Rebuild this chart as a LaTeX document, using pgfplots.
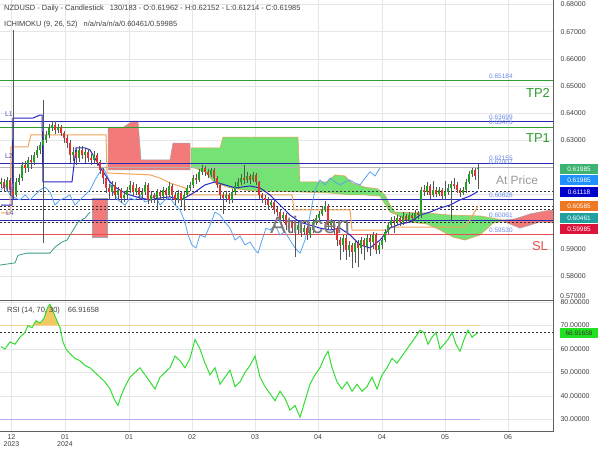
\documentclass[border=0pt]{standalone}
\usepackage{fontspec}
\setmainfont{Liberation Sans}
\usepackage{pgfplots}
\pgfplotsset{compat=1.18}
\usepackage{pgfplotstable}

\definecolor{wick}{HTML}{555555}
\definecolor{cup}{HTML}{22A022}
\definecolor{cdn}{HTML}{E03030}
\definecolor{tenkan}{HTML}{2828C8}
\definecolor{kijun}{HTML}{F5A55A}
\definecolor{chikou}{HTML}{5AA5F0}
\definecolor{senkou}{HTML}{3A9A8A}
\definecolor{cloudgreen}{HTML}{74E274}
\definecolor{cloudred}{HTML}{F27A7A}
\definecolor{levelblue}{HTML}{2A2AB4}
\definecolor{levelgreen}{HTML}{2E9E2E}
\definecolor{levelred}{HTML}{E85050}
\definecolor{atgray}{HTML}{B4B4B4}
\definecolor{gridgray}{HTML}{E6E6E6}
\definecolor{axisgray}{HTML}{606060}
\definecolor{labelgray}{HTML}{404040}
\definecolor{pricelabel}{HTML}{6A8AE8}
\definecolor{rsiline}{HTML}{33DD33}
\definecolor{rsiseventy}{HTML}{F5D49A}
\definecolor{rsithirty}{HTML}{B8A8EE}
\definecolor{rsifill}{HTML}{F2C860}
\definecolor{boxgreen}{HTML}{3CB371}
\definecolor{boxblue}{HTML}{1E90FF}
\definecolor{boxnavy}{HTML}{0000CD}
\definecolor{boxorange}{HTML}{EE7722}
\definecolor{boxteal}{HTML}{22A0A0}
\definecolor{boxred}{HTML}{DC143C}
\definecolor{rsibox}{HTML}{22E022}
\definecolor{watermark}{HTML}{7A7A7A}

\pgfplotstableread{
x o h l c
1 0.6140 0.6162 0.6125 0.6147
4 0.6147 0.6159 0.6110 0.6125
7 0.6125 0.6166 0.6112 0.6154
10 0.6154 0.6160 0.6095 0.6117
13 0.6117 0.6706 0.6085 0.6099
16 0.6099 0.6160 0.6090 0.6147
19 0.6147 0.6175 0.6135 0.6161
22 0.6161 0.6220 0.6150 0.6209
25 0.6209 0.6225 0.6180 0.6198
28 0.6198 0.6240 0.6185 0.6228
31 0.6228 0.6245 0.6195 0.6220
34 0.6220 0.6258 0.6210 0.6246
37 0.6246 0.6280 0.6235 0.6265
40 0.6265 0.6295 0.6250 0.6283
43 0.6283 0.6449 0.5922 0.6301
46 0.6301 0.6335 0.6290 0.6320
49 0.6320 0.6360 0.6310 0.6346
52 0.6346 0.6372 0.6335 0.6357
55 0.6357 0.6370 0.6325 0.6338
58 0.6338 0.6362 0.6328 0.6349
61 0.6349 0.6358 0.6315 0.6327
64 0.6327 0.6335 0.6290 0.6309
67 0.6309 0.6318 0.6270 0.6290
70 0.6290 0.6300 0.6215 0.6246
73 0.6246 0.6275 0.6225 0.6257
76 0.6257 0.6268 0.6210 0.6235
79 0.6235 0.6280 0.6220 0.6265
82 0.6265 0.6278 0.6230 0.6246
85 0.6246 0.6272 0.6215 0.6257
88 0.6257 0.6268 0.6220 0.6235
91 0.6235 0.6250 0.6210 0.6228
94 0.6228 0.6262 0.6215 0.6246
97 0.6246 0.6255 0.6205 0.6220
100 0.6220 0.6228 0.6175 0.6191
103 0.6191 0.6200 0.6140 0.6161
106 0.6161 0.6170 0.6105 0.6125
109 0.6125 0.6140 0.6082 0.6110
112 0.6110 0.6150 0.6095 0.6136
115 0.6136 0.6145 0.6080 0.6099
118 0.6099 0.6130 0.6085 0.6117
121 0.6117 0.6125 0.6070 0.6088
124 0.6088 0.6112 0.6075 0.6099
127 0.6099 0.6130 0.6085 0.6117
130 0.6117 0.6150 0.6105 0.6136
133 0.6136 0.6145 0.6095 0.6110
136 0.6110 0.6138 0.6098 0.6125
139 0.6125 0.6130 0.6080 0.6099
142 0.6099 0.6125 0.6085 0.6110
145 0.6110 0.6148 0.6100 0.6136
148 0.6136 0.6142 0.6065 0.6081
151 0.6081 0.6112 0.6068 0.6099
154 0.6099 0.6108 0.6070 0.6088
157 0.6088 0.6122 0.6048 0.6110
160 0.6110 0.6118 0.6080 0.6095
163 0.6095 0.6130 0.6082 0.6117
166 0.6117 0.6125 0.6085 0.6099
169 0.6099 0.6145 0.6090 0.6132
172 0.6132 0.6140 0.6085 0.6099
175 0.6099 0.6110 0.6062 0.6081
178 0.6081 0.6118 0.6070 0.6106
181 0.6106 0.6115 0.6060 0.6081
184 0.6081 0.6110 0.6040 0.6099
187 0.6099 0.6135 0.6090 0.6125
190 0.6125 0.6148 0.6115 0.6136
193 0.6136 0.6172 0.6125 0.6161
196 0.6161 0.6175 0.6140 0.6154
199 0.6154 0.6195 0.6145 0.6184
202 0.6184 0.6210 0.6172 0.6198
205 0.6198 0.6205 0.6170 0.6184
208 0.6184 0.6195 0.6160 0.6173
211 0.6173 0.6200 0.6165 0.6191
214 0.6191 0.6198 0.6150 0.6161
217 0.6161 0.6170 0.6125 0.6136
220 0.6136 0.6142 0.6085 0.6099
223 0.6099 0.6110 0.6030 0.6088
226 0.6088 0.6112 0.6075 0.6099
229 0.6099 0.6105 0.6065 0.6081
232 0.6081 0.6122 0.6070 0.6110
235 0.6110 0.6145 0.6098 0.6132
238 0.6132 0.6160 0.6120 0.6147
241 0.6147 0.6175 0.6135 0.6161
244 0.6161 0.6210 0.6140 0.6154
247 0.6154 0.6182 0.6142 0.6169
250 0.6169 0.6178 0.6140 0.6154
253 0.6154 0.6185 0.6145 0.6173
256 0.6173 0.6180 0.6135 0.6147
259 0.6147 0.6152 0.6085 0.6099
262 0.6099 0.6108 0.6070 0.6088
265 0.6088 0.6098 0.6062 0.6081
268 0.6081 0.6090 0.6045 0.6062
271 0.6062 0.6085 0.6050 0.6073
274 0.6073 0.6080 0.6030 0.6044
277 0.6044 0.6055 0.6020 0.6036
280 0.6036 0.6048 0.5995 0.6014
283 0.6014 0.6038 0.6000 0.6025
286 0.6025 0.6032 0.5970 0.5988
289 0.5988 0.6012 0.5975 0.5999
292 0.5999 0.6008 0.5960 0.5977
295 0.5977 0.5990 0.5871 0.5970
298 0.5970 0.6000 0.5955 0.5988
301 0.5988 0.5995 0.5945 0.5963
304 0.5963 0.5990 0.5950 0.5977
307 0.5977 0.5985 0.5935 0.5952
310 0.5952 0.5982 0.5940 0.5970
313 0.5970 0.6010 0.5960 0.5999
316 0.5999 0.6025 0.5990 0.6014
319 0.6014 0.6040 0.6005 0.6029
322 0.6029 0.6060 0.6020 0.6044
325 0.6044 0.6075 0.6035 0.6058
328 0.6058 0.6065 0.5975 0.5988
331 0.5988 0.6010 0.5975 0.5999
334 0.5999 0.6008 0.5955 0.5977
337 0.5977 0.5985 0.5910 0.5933
340 0.5933 0.5945 0.5860 0.5915
343 0.5915 0.5952 0.5890 0.5941
346 0.5941 0.5950 0.5860 0.5897
349 0.5897 0.5928 0.5870 0.5915
352 0.5915 0.5922 0.5830 0.5889
355 0.5889 0.5935 0.5850 0.5922
358 0.5922 0.5935 0.5835 0.5904
361 0.5904 0.5945 0.5880 0.5933
364 0.5933 0.5940 0.5860 0.5911
367 0.5911 0.5955 0.5890 0.5941
370 0.5941 0.5952 0.5875 0.5926
373 0.5926 0.5962 0.5900 0.5952
376 0.5952 0.5960 0.5880 0.5897
379 0.5897 0.5925 0.5880 0.5915
382 0.5915 0.5945 0.5900 0.5933
385 0.5933 0.5975 0.5925 0.5963
388 0.5963 0.6000 0.5955 0.5988
391 0.5988 0.6018 0.5978 0.6007
394 0.6007 0.6020 0.5960 0.5999
397 0.5999 0.6025 0.5990 0.6014
400 0.6014 0.6022 0.5985 0.5999
403 0.5999 0.6035 0.5990 0.6022
406 0.6022 0.6030 0.5995 0.6007
409 0.6007 0.6038 0.5998 0.6025
412 0.6025 0.6032 0.6000 0.6014
415 0.6014 0.6045 0.6005 0.6033
418 0.6033 0.6040 0.6010 0.6025
421 0.6025 0.6128 0.6015 0.6117
424 0.6117 0.6135 0.6095 0.6110
427 0.6110 0.6145 0.6100 0.6132
430 0.6132 0.6140 0.6085 0.6099
433 0.6099 0.6150 0.6090 0.6117
436 0.6117 0.6128 0.6092 0.6103
439 0.6103 0.6130 0.6095 0.6117
442 0.6117 0.6125 0.6080 0.6095
445 0.6095 0.6150 0.6085 0.6110
448 0.6110 0.6138 0.6100 0.6125
451 0.6125 0.6152 0.6007 0.6139
454 0.6139 0.6160 0.6122 0.6136
457 0.6136 0.6145 0.6105 0.6117
460 0.6117 0.6125 0.6090 0.6106
463 0.6106 0.6130 0.6100 0.6117
466 0.6117 0.6158 0.6108 0.6147
469 0.6147 0.6188 0.6140 0.6176
472 0.6176 0.6200 0.6165 0.6191
475 0.6191 0.6198 0.6155 0.6169
478 0.61962 0.62152 0.61214 0.61985
}\candles

\pgfplotstableread{
x r
1 61
5 60
10 63
15 62
20 65
25 67
28 70
32 69
36 72
40 71
44 73
48 78
50 79
53 76
57 72
60 69
63 63
66 60
70 58
75 56
80 55
85 53
90 52
95 50
100 48
105 46
110 43
115 38
118 36
121 40
125 44
130 48
135 50
140 52
145 49
150 46
155 43
160 48
165 50
170 52
175 57
180 55
185 52
190 56
195 64
200 60
205 54
210 49
215 52
220 45
225 48
230 51
235 44
240 46
245 50
250 53
255 57
260 48
265 44
270 41
275 38
280 42
285 39
290 34
295 36
300 31
305 38
310 45
315 49
320 52
325 57
328 59
332 52
337 46
342 43
347 46
352 42
357 45
362 42
367 44
372 48
377 43
382 49
387 52
392 56
397 54
402 57
407 60
412 63
417 66
420 68
424 67
428 62
432 65
436 67
440 60
444 62
448 64
452 67
456 62
460 59
464 64
468 68
472 65
475 66
478 66.92
}\rsi

\pgfplotsset{
  chartbase/.style={
    scale only axis, width=553bp, xmin=0, xmax=553,
    axis line style={draw=none}, tick style={draw=none},
    major tick length=0pt,
    grid=major, grid style={draw=gridgray, line width=0.5bp},
    xtick={11.5,65,129,192,255,318,382,445,508},
    ytick pos=right, yticklabel pos=right,
    yticklabel style={font=\fontsize{7}{8}\selectfont, text=labelgray, anchor=west, xshift=4bp,
      /pgf/number format/.cd, fixed, fixed zerofill, precision=5, assume math mode=true},
  },
  wickstyle/.style={forget plot, draw=none, mark=none,
    error bars/.cd, y dir=both, y explicit, error mark=none,
    error bar style={draw=wick, line width=0.7bp}},
}

\begin{document}
\begin{tikzpicture}[x=1bp,y=1bp]
\fill[white] (0,0) rectangle (600,450);

% ===== Price panel =====
\begin{axis}[chartbase, at={(0bp,149bp)}, anchor=south west, height=301bp,
  ymin=0.57088, ymax=0.68165,
  ytick={0.58,0.59,0.60,0.61,0.62,0.63,0.64,0.65,0.66,0.67,0.68},
  yticklabels={0.58000,0.59000,{},{},{},0.63000,0.64000,0.65000,0.66000,0.67000,0.68000},
  xticklabels={}]

% clouds
\addplot[fill=cloudred, draw=gray!70, line width=0.5bp] coordinates {(92,0.6088)(107,0.6088)(107,0.5944)(92,0.5944)} -- cycle;
\addplot[fill=cloudred, draw=gray!70, line width=0.5bp] coordinates {(108,0.6349)(124,0.6349)(128,0.6360)(133,0.6371)(138,0.6371)(141,0.6228)(170,0.6228)(173,0.6290)(190,0.6290)(190,0.6191)(108,0.6191)} -- cycle;
\addplot[fill=cloudgreen, draw=kijun!80!brown, line width=0.5bp] coordinates {(191,0.6272)(220,0.6272)(223,0.6312)(298,0.6312)(300,0.6147)(327,0.6147)(335,0.6173)(345,0.6169)(352,0.6143)(365,0.6128)(378,0.6121)(385,0.6099)(390,0.6062)(395,0.6036)(395,0.6029)(390,0.6036)(380,0.6095)(365,0.6099)(350,0.6099)(330,0.6106)(300,0.6110)(250,0.6114)(230,0.6125)(215,0.6143)(205,0.6184)(191,0.6202)} -- cycle;
\addplot[fill=cloudgreen, draw=kijun!80!brown, line width=0.5bp] coordinates {(395,0.6036)(427,0.6033)(450,0.6025)(480,0.6022)(503,0.6007)(503,0.6003)(493,0.5995)(480,0.5952)(465,0.5933)(453,0.5944)(440,0.5970)(427,0.5992)(410,0.5999)(395,0.6029)} -- cycle;
\addplot[fill=cloudred, draw=gray!70, line width=0.5bp] coordinates {(503,0.6007)(515,0.6011)(530,0.6029)(545,0.6040)(553,0.6044)(553,0.5996)(540,0.6000)(530,0.5988)(520,0.5977)(510,0.5992)(503,0.6003)} -- cycle;

% level lines
\addplot[levelgreen, line width=1bp] coordinates {(0,0.65184)(553,0.65184)};
\addplot[levelblue, line width=1bp] coordinates {(0,0.63699)(553,0.63699)};
\addplot[levelgreen, line width=1bp] coordinates {(0,0.63476)(553,0.63476)};
\addplot[levelblue, line width=1bp] coordinates {(0,0.62155)(553,0.62155)};
\addplot[atgray, line width=1bp] coordinates {(0,0.61985)(553,0.61985)};
\addplot[levelblue, line width=1bp] coordinates {(0,0.60828)(553,0.60828)};
\addplot[levelblue, line width=1bp] coordinates {(0,0.60061)(553,0.60061)};
\addplot[levelred, line width=1bp] coordinates {(0,0.59530)(553,0.59530)};
\addplot[black!80, line width=0.7bp, dash pattern=on 2bp off 2bp] coordinates {(0,0.61118)(553,0.61118)};
\addplot[black!80, line width=0.7bp, dash pattern=on 2bp off 2bp] coordinates {(0,0.60585)(553,0.60585)};
\addplot[black!80, line width=0.7bp, dash pattern=on 2bp off 2bp] coordinates {(0,0.60461)(553,0.60461)};
\addplot[black!80, line width=0.7bp, dash pattern=on 2bp off 2bp] coordinates {(0,0.59985)(553,0.59985)};

% ichimoku lines
\addplot[senkou, line width=0.8bp] coordinates {(0,0.5841)(15,0.5849)(18,0.5877)(27,0.5885)(50,0.5885)(55,0.5907)(62,0.5926)(67,0.5933)(72,0.5963)(78,0.5999)(85,0.6014)(90,0.6036)};
\addplot[chikou, line width=0.8bp] coordinates {(1,0.6117)(5,0.6136)(10,0.6099)(15,0.6088)(20,0.6081)(25,0.6099)(30,0.6081)(35,0.6099)(40,0.6117)(45,0.6128)(50,0.6110)(55,0.6062)(60,0.6081)(65,0.6088)(70,0.6099)(75,0.6062)(80,0.6081)(85,0.6099)(90,0.6117)(95,0.6154)(100,0.6184)(103,0.6198)(107,0.6173)(112,0.6117)(118,0.6081)(125,0.6062)(130,0.6088)(135,0.6081)(140,0.6099)(145,0.6073)(150,0.6081)(155,0.6099)(160,0.6062)(165,0.6081)(170,0.6088)(175,0.6062)(180,0.6044)(185,0.5999)(188,0.5952)(192,0.5915)(196,0.5904)(200,0.5952)(205,0.5944)(210,0.5988)(215,0.6036)(220,0.6025)(225,0.5999)(230,0.5977)(235,0.5933)(240,0.5948)(245,0.5915)(250,0.5926)(255,0.5897)(258,0.5885)(262,0.5933)(266,0.5977)(270,0.5970)(275,0.5988)(280,0.5952)(285,0.5963)(290,0.5933)(295,0.5904)(300,0.5885)(305,0.5933)(310,0.6025)(315,0.6117)(320,0.6154)(325,0.6136)(330,0.6161)(335,0.6147)(340,0.6136)(345,0.6147)(350,0.6154)(355,0.6143)(360,0.6136)(365,0.6161)(370,0.6184)(375,0.6169)(380,0.6198)};
\addplot[kijun, line width=1bp] coordinates {(1,0.6033)(10,0.6033)(11,0.6276)(28,0.6276)(31,0.6320)(106,0.6320)(107,0.6180)(150,0.6173)(160,0.6161)(170,0.6143)(185,0.6125)(190,0.6099)(292,0.6099)(294,0.6044)(350,0.6044)(352,0.5970)(387,0.5970)(390,0.5981)(465,0.5981)(470,0.6007)(474,0.6033)(478,0.6058)};
\addplot[tenkan, line width=1bp] coordinates {(1,0.6062)(12,0.6062)(13,0.6382)(33,0.6382)(40,0.6393)(42,0.6393)(43,0.6147)(72,0.6147)(76,0.6272)(85,0.6272)(90,0.6265)(100,0.6202)(110,0.6147)(115,0.6128)(125,0.6106)(130,0.6099)(140,0.6088)(150,0.6081)(160,0.6088)(170,0.6092)(180,0.6081)(185,0.6088)(195,0.6110)(205,0.6136)(215,0.6147)(225,0.6136)(235,0.6125)(250,0.6132)(260,0.6125)(270,0.6099)(280,0.6062)(290,0.6025)(300,0.5999)(310,0.5988)(320,0.5977)(330,0.5970)(340,0.5977)(350,0.5952)(360,0.5915)(370,0.5904)(380,0.5933)(390,0.5977)(400,0.5992)(410,0.5999)(420,0.6025)(430,0.6036)(440,0.6051)(450,0.6062)(460,0.6081)(470,0.6095)(478,0.6112)};

% candles
\addplot[wickstyle] table[x=x, y expr={(\thisrow{h}+\thisrow{l})/2}, y error expr={(\thisrow{h}-\thisrow{l})/2}] {\candles};
\addplot[forget plot, draw=none, mark=none,
  restrict expr to domain={\thisrow{c}-\thisrow{o}}{0:1},
  error bars/.cd, y dir=both, y explicit, error mark=none,
  error bar style={draw=cup, line width=2bp}]
  table[x=x, y expr={(\thisrow{o}+\thisrow{c})/2}, y error expr={max(abs(\thisrow{c}-\thisrow{o})/2,0.00012)}] {\candles};
\addplot[forget plot, draw=none, mark=none,
  restrict expr to domain={\thisrow{o}-\thisrow{c}}{0.00001:1},
  error bars/.cd, y dir=both, y explicit, error mark=none,
  error bar style={draw=cdn, line width=2bp}]
  table[x=x, y expr={(\thisrow{o}+\thisrow{c})/2}, y error expr={max(abs(\thisrow{c}-\thisrow{o})/2,0.00012)}] {\candles};
\end{axis}

% ===== RSI panel =====
\begin{axis}[chartbase, at={(0bp,18bp)}, anchor=south west, height=131bp,
  ymin=24.7, ymax=80.4,
  ytick={30,40,50,60,70,80},
  yticklabels={30.00000,40.00000,50.00000,60.00000,70.00000,80.00000},
  xticklabels={{12\\2023},{01\\2024},01,02,03,04,04,05,06},
  xticklabel style={align=center, font=\fontsize{7}{7.5}\selectfont, text=labelgray, inner sep=1bp, yshift=-1bp}]
\addplot[fill=rsifill, draw=none] coordinates {(33.3,70)(36,72)(40,71)(44,73)(48,78)(50,79)(53,76)(57,72)(59,70)} -- cycle;
\addplot[rsiseventy, line width=1.2bp] coordinates {(0,70)(480,70)};
\addplot[rsithirty, line width=1.2bp] coordinates {(0,30)(480,30)};
\addplot[black!80, line width=0.7bp, dash pattern=on 2bp off 2bp] coordinates {(0,66.92)(553,66.92)};
\addplot[rsiline, line width=1bp] table[x=x, y=r] {\rsi};
\end{axis}

% frame lines
\draw[axisgray, line width=1bp] (553,18) -- (553,450);
\draw[axisgray, line width=1bp] (0,149) -- (553,149);
\draw[axisgray, line width=1bp] (0,18) -- (553,18);

% watermark
\node[text=watermark, font=\fontsize{24}{26}\selectfont] at (310,225) {Atincen};

% header
\node[anchor=west, font=\fontsize{7.5}{9}\selectfont, text=labelgray, inner sep=0] at (4,441) {NZDUSD - Daily - Candlestick\hspace{6bp}130/183 - O:0.61962 - H:0.62152 - L:0.61214 - C:0.61985};
\node[anchor=west, font=\fontsize{7.5}{9}\selectfont, text=labelgray, inner sep=0] at (4,425) {ICHIMOKU (9, 26, 52)\hspace{6bp}n/a/n/a/n/a/0.60461/0.59985};
\node[anchor=west, font=\fontsize{7.5}{9}\selectfont, text=labelgray, inner sep=0] at (7,139) {RSI (14, 70, 30)\hspace{8bp}66.91658};

% L labels
\begin{scope}[font=\fontsize{7}{8}\selectfont, text=levelblue!80, inner sep=0]
\node at (9,336) {L1};
\node at (9,294) {L2};
\node at (10,260) {L3};
\node at (10,237) {L4};
\end{scope}

% price labels
\begin{scope}[font=\fontsize{6.5}{7}\selectfont, text=pricelabel, inner sep=0]
\node[anchor=west] at (489,374) {0.65184};
\node[anchor=west] at (489,333) {0.63699};
\node[anchor=west] at (489,328) {0.63476};
\node[anchor=west] at (489,292) {0.62155};
\node[anchor=west] at (489,288) {0.62007};
\node[anchor=west] at (489,255) {0.60828};
\node[anchor=west] at (489,235) {0.60061};
\node[anchor=west] at (489,220) {0.59530};
\end{scope}

% big labels
\node[text=levelgreen, font=\fontsize{13}{14}\selectfont] at (538,357) {TP2};
\node[text=levelgreen, font=\fontsize{13}{14}\selectfont] at (538,312) {TP1};
\node[text=gray!80, font=\fontsize{12}{13}\selectfont] at (517,270) {At Price};
\node[text=levelred, font=\fontsize{13}{14}\selectfont] at (540,204) {SL};

% right value boxes
\begin{scope}[every node/.style={font=\fontsize{6.5}{7}\selectfont, minimum width=38bp, minimum height=10bp, inner sep=0.5bp, text=white}]
\node[fill=boxgreen] at (579,281) {0.61985};
\node[fill=boxblue] at (579,270) {0.61985};
\node[fill=boxnavy] at (579,257.5) {0.61118};
\node[fill=boxorange] at (579,243.5) {0.60585};
\node[fill=boxteal] at (579,232) {0.60461};
\node[fill=boxred] at (579,221) {0.59985};
\node[fill=rsibox, text=black!80] at (579,117) {66.91658};
\end{scope}
\node[anchor=west, font=\fontsize{7}{8}\selectfont, text=labelgray, inner sep=0] at (560,154) {0.57000};

\pgfresetboundingbox
\path[use as bounding box] (0,0) rectangle (600,450);
\end{tikzpicture}
\end{document}
